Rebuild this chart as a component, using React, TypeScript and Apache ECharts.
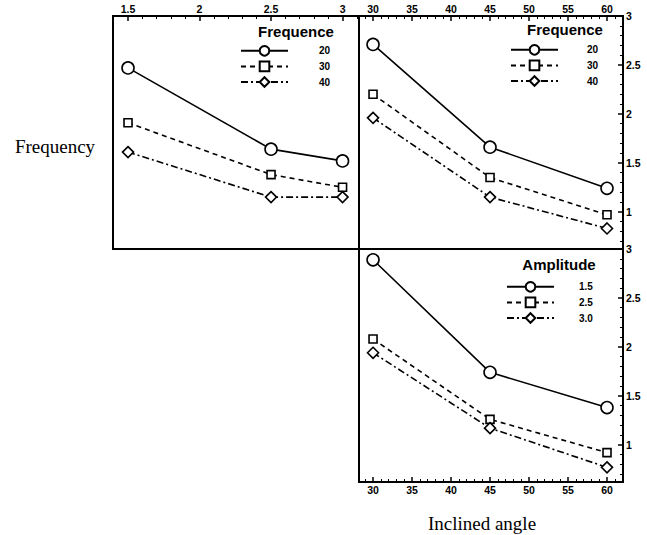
import React, { useEffect, useRef } from "react";
import * as echarts from "echarts";

// X categories
const amplitudes = [1.5, 2.5, 3];
const angles = [30, 45, 60];
// Legend names
const freqNames = ["20", "30", "40"];
const ampNames = ["1.5", "2.5", "3.0"];
// Top-left panel: frequency series vs amplitude
const f20ByAmp = [2.47, 1.64, 1.52];
const f30ByAmp = [1.91, 1.38, 1.25];
const f40ByAmp = [1.61, 1.15, 1.15];
// Top-right panel: frequency series vs inclined angle
const f20ByAngle = [2.71, 1.66, 1.24];
const f30ByAngle = [2.2, 1.35, 0.97];
const f40ByAngle = [1.96, 1.15, 0.83];
// Bottom panel: amplitude series vs inclined angle
const a15ByAngle = [2.89, 1.74, 1.38];
const a25ByAngle = [2.08, 1.26, 0.92];
const a30ByAngle = [1.94, 1.17, 0.77];
// Tick labels
const ampTicks = [1.5, 2, 2.5, 3];
const angleTicks = [30, 35, 40, 45, 50, 55, 60];
const yTicks = [1, 1.5, 2, 2.5, 3];

const SANS = "Liberation Sans, Arial, sans-serif";
const SERIF = "Liberation Serif, Times New Roman, serif";

const range = (a: number, b: number, step: number) => {
  const out: number[] = [];
  for (let v = a; v <= b + 1e-9; v += step) out.push(Math.round(v * 100) / 100);
  return out;
};
const minorAmp = range(1.4, 3.1, 0.1).filter((v) => !ampTicks.some((t) => Math.abs(t - v) < 1e-6));
const minorAngle = range(29, 62, 1).filter((v) => !angleTicks.includes(v));
const minorY = range(0.7, 3, 0.1).filter((v) => !yTicks.some((t) => Math.abs(t - v) < 1e-6));

const styles = [
  { symbol: "circle", size: 12, type: "solid" as any },
  { symbol: "rect", size: 8, type: [5, 4] as any },
  { symbol: "diamond", size: 11, type: [7, 3, 2, 3] as any },
];

export default function App() {
  const ref = useRef<HTMLDivElement>(null);
  useEffect(() => {
    if (!ref.current) return;
    const chart = echarts.init(ref.current, null, { renderer: "svg" });
    const YMIN = 0.62;
    const YMAX = 3;
    const labelStyle = { color: "#000", fontFamily: SANS, fontWeight: "bold", fontSize: 10.5 };

    const mkX = (grid: number, pos: string, min: number, max: number, ticks: number[], minor: number[]) => [
      {
        type: "value", gridIndex: grid, position: pos, min, max,
        axisLine: { show: true, lineStyle: { color: "#000", width: 2 } },
        axisTick: { show: true, inside: true, length: 5, customValues: ticks, lineStyle: { color: "#000", width: 1.5 } },
        axisLabel: { show: true, customValues: ticks, margin: 2, ...labelStyle },
        splitLine: { show: false },
      },
      {
        type: "value", gridIndex: grid, position: pos, min, max,
        axisLine: { show: false },
        axisTick: { show: true, inside: true, length: 3, customValues: minor, lineStyle: { color: "#000", width: 1 } },
        axisLabel: { show: false },
        splitLine: { show: false },
      },
    ];
    const mkY = (grid: number, show: boolean) => show ? [
      {
        type: "value", gridIndex: grid, position: "right", min: YMIN, max: YMAX,
        axisLine: { show: true, lineStyle: { color: "#000", width: 2 } },
        axisTick: { show: true, inside: true, length: 5, customValues: yTicks, lineStyle: { color: "#000", width: 1.5 } },
        axisLabel: { show: true, customValues: yTicks, margin: 3, ...labelStyle },
        splitLine: { show: false },
      },
      {
        type: "value", gridIndex: grid, position: "right", min: YMIN, max: YMAX,
        axisLine: { show: false },
        axisTick: { show: true, inside: true, length: 3, customValues: minorY, lineStyle: { color: "#000", width: 1 } },
        axisLabel: { show: false },
        splitLine: { show: false },
      },
    ] : [
      {
        type: "value", gridIndex: grid, position: "left", min: YMIN, max: YMAX,
        axisLine: { show: true, lineStyle: { color: "#000", width: 2 } },
        axisTick: { show: false }, axisLabel: { show: false }, splitLine: { show: false },
      },
    ];

    const xAxis = [
      ...mkX(0, "top", 1.395, 3.115, ampTicks, minorAmp),
      ...mkX(1, "top", 28.2, 62.05, angleTicks, minorAngle),
      ...mkX(2, "bottom", 28.2, 62.05, angleTicks, minorAngle),
    ];
    const yAxis = [...mkY(0, false), ...mkY(1, true), ...mkY(2, true)];

    const mkSeries = (name: string, xs: number[], ys: number[], k: number, xi: number, yi: number) => ({
      type: "line", name, xAxisIndex: xi, yAxisIndex: yi,
      data: xs.map((x, i) => [x, ys[i]]),
      symbol: styles[k].symbol, symbolSize: styles[k].size, showSymbol: true,
      lineStyle: { color: "#000", width: 1.6, type: styles[k].type },
      itemStyle: { color: "#fff", borderColor: "#000", borderWidth: 1.6 },
      z: 3,
    });

    const series = [
      mkSeries(freqNames[0], amplitudes, f20ByAmp, 0, 0, 0),
      mkSeries(freqNames[1], amplitudes, f30ByAmp, 1, 0, 0),
      mkSeries(freqNames[2], amplitudes, f40ByAmp, 2, 0, 0),
      mkSeries(freqNames[0], angles, f20ByAngle, 0, 2, 1),
      mkSeries(freqNames[1], angles, f30ByAngle, 1, 2, 1),
      mkSeries(freqNames[2], angles, f40ByAngle, 2, 2, 1),
      mkSeries(ampNames[0], angles, a15ByAngle, 0, 4, 3),
      mkSeries(ampNames[1], angles, a25ByAngle, 1, 4, 3),
      mkSeries(ampNames[2], angles, a30ByAngle, 2, 4, 3),
    ];

    const mkLegend = (names: string[], left: number, top: number, gap: number) => ({
      data: names, orient: "vertical", left, top,
      itemWidth: 47, itemHeight: 12, itemGap: 4, padding: 0,
      selectedMode: false,
      textStyle: { color: "#000", fontFamily: SANS, fontWeight: "bold", fontSize: 10, padding: [0, 0, 0, gap] },
    });

    const titleText = (text: string, x: number, y: number) => ({
      type: "text", x, y,
      style: { text, fill: "#000", font: `bold 15px ${SANS}`, textAlign: "center", textVerticalAlign: "middle" },
    });

    chart.setOption({
      animation: false,
      backgroundColor: "#fff",
      grid: [
        { left: 113, top: 16, width: 246, height: 233, show: true, borderColor: "#000", borderWidth: 2 },
        { left: 359, top: 16, width: 264, height: 233, show: true, borderColor: "#000", borderWidth: 2 },
        { left: 359, top: 249, width: 264, height: 233, show: true, borderColor: "#000", borderWidth: 2 },
      ],
      xAxis, yAxis, series,
      legend: [
        mkLegend(freqNames, 240, 45, 26),
        mkLegend(freqNames, 510, 44, 24),
        mkLegend(ampNames, 506, 281, 20),
      ],
      graphic: [
        titleText("Frequence", 296, 31),
        titleText("Frequence", 565, 29),
        titleText("Amplitude", 559, 264),
        {
          type: "text", x: 55, y: 146,
          style: { text: "Frequency", fill: "#000", font: `19px ${SERIF}`, textAlign: "center", textVerticalAlign: "middle" },
        },
        {
          type: "text", x: 482, y: 523,
          style: { text: "Inclined angle", fill: "#000", font: `19px ${SERIF}`, textAlign: "center", textVerticalAlign: "middle" },
        },
      ],
    });
    return () => chart.dispose();
  }, []);
  return <div ref={ref} style={{ position: "fixed", left: 0, top: 0, width: 647, height: 535 }} />;
}
